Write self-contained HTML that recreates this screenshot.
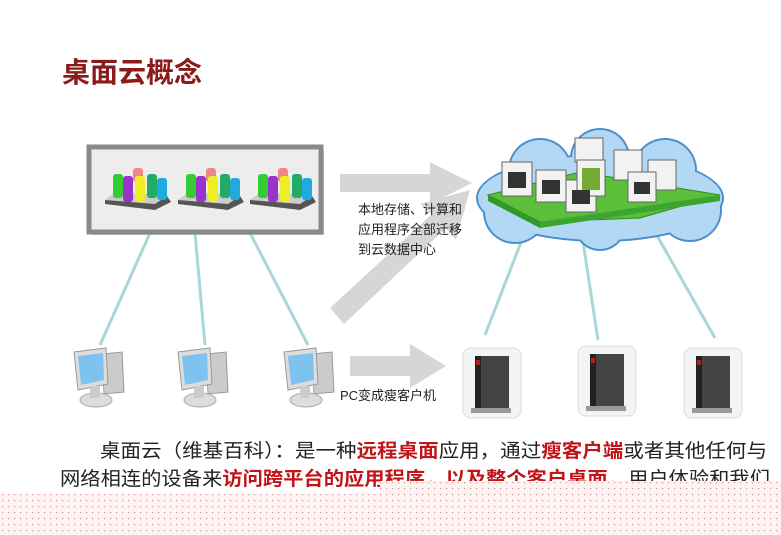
<!DOCTYPE html>
<html><head><meta charset="utf-8"><style>
html,body{margin:0;padding:0;background:#fff;}
body{width:781px;height:535px;overflow:hidden;position:relative;font-family:"Liberation Sans","Noto Sans CJK SC",sans-serif;}
</style></head><body>
<svg width="781" height="535" viewBox="0 0 781 535" xmlns="http://www.w3.org/2000/svg" style="position:absolute;left:0;top:0">
<defs>
<pattern id="dots" width="6" height="6" patternUnits="userSpaceOnUse"><rect width="6" height="6" fill="#fdf3f3"/><rect x="2" y="2" width="1.2" height="1.2" fill="#c99"/></pattern>
<g id="cyl">
 <polygon points="0,28 12,20 62,24 66,30 50,38 0,32" fill="#555"/>
 <polygon points="0,28 12,20 62,24 50,32" fill="#ccc"/>
 <rect x="8" y="2" width="10" height="24" rx="3" fill="#3c3"/>
 <rect x="28" y="-4" width="10" height="14" rx="3" fill="#e88"/>
 <rect x="18" y="4" width="10" height="26" rx="3" fill="#93c"/>
 <rect x="30" y="4" width="10" height="26" rx="3" fill="#ee2"/>
 <rect x="42" y="2" width="10" height="24" rx="3" fill="#2a6"/>
 <rect x="52" y="6" width="10" height="22" rx="3" fill="#2ad"/>
</g>
<g id="pc">
 <polygon points="28,6 48,4 50,44 30,46" fill="#ccc" stroke="#999"/>
 <polygon points="0,4 32,0 34,36 4,42" fill="#ddd" stroke="#999"/>
 <polygon points="4,8 29,5 30,32 7,37" fill="#7ec2f0"/>
 <ellipse cx="22" cy="52" rx="16" ry="7" fill="#ddd" stroke="#aaa"/>
 <rect x="16" y="38" width="10" height="12" fill="#ccc"/>
</g>
<g id="tc">
 <rect x="0" y="0" width="58" height="70" rx="8" fill="#f4f4f4" stroke="#ddd"/>
 <rect x="12" y="8" width="34" height="52" fill="#444"/>
 <rect x="12" y="8" width="6" height="52" fill="#222"/>
 <rect x="13" y="12" width="4" height="5" fill="#a22"/>
 <rect x="8" y="60" width="40" height="5" fill="#999"/>
</g>
</defs>
<text x="62" y="82" font-size="28" font-weight="bold" fill="#8b1a1a" font-family="Liberation Sans, Noto Sans CJK SC, sans-serif">桌面云概念</text>
<g stroke="#a9d6d8" stroke-width="3">
<line x1="150" y1="233" x2="100" y2="345"/><line x1="195" y1="233" x2="205" y2="345"/><line x1="250" y1="233" x2="308" y2="345"/>
<line x1="525" y1="232" x2="485" y2="335"/><line x1="582" y1="235" x2="598" y2="340"/><line x1="655" y1="232" x2="715" y2="338"/>
</g>
<rect x="92" y="150" width="232" height="85" fill="#999" opacity="0.5"/>
<rect x="89" y="147" width="232" height="85" fill="#ededed" stroke="#8a8a8a" stroke-width="5"/>
<use href="#cyl" x="105" y="172"/><use href="#cyl" x="178" y="172"/><use href="#cyl" x="250" y="172"/>
<polygon points="340,174 430,174 430,162 472,183 430,204 430,192 340,192" fill="#d6d6d6"/>
<polygon points="330,308 432,214 420,204 470,190 456,240 446,228 344,324" fill="#d6d6d6"/>
<polygon points="350,356 410,356 410,344 446,366 410,388 410,376 350,376" fill="#d6d6d6"/>
<g font-size="13" fill="#222">
<text x="358" y="214">本地存储、计算和</text><text x="358" y="234">应用程序全部迁移</text><text x="358" y="254">到云数据中心</text>
<text x="340" y="400">PC变成瘦客户机</text>
</g>
<!-- cloud -->
<g fill="#4a8fd0">
<ellipse cx="600" cy="198" rx="124" ry="44"/>
<circle cx="540" cy="170" r="32"/><circle cx="600" cy="158" r="30"/><circle cx="665" cy="170" r="32"/>
<circle cx="515" cy="212" r="32"/><circle cx="600" cy="225" r="26"/><circle cx="690" cy="210" r="32"/>
</g>
<g fill="#b3d8f4">
<ellipse cx="600" cy="198" rx="122" ry="42"/>
<circle cx="540" cy="170" r="30"/><circle cx="600" cy="158" r="28"/><circle cx="665" cy="170" r="30"/>
<circle cx="515" cy="212" r="30"/><circle cx="600" cy="225" r="24"/><circle cx="690" cy="210" r="30"/>
</g>
<polygon points="488,195 580,172 720,195 640,218 540,222" fill="#5cbf3a" stroke="#2f8a22"/>
<polygon points="488,195 540,222 540,228 488,201" fill="#2f9a2a"/>
<polygon points="540,222 720,195 720,201 540,228" fill="#3aa530"/>
<g stroke="#666" fill="#f2f2f2">
<rect x="502" y="162" width="30" height="34"/><rect x="536" y="170" width="30" height="32"/><rect x="566" y="180" width="30" height="32"/>
<rect x="575" y="138" width="28" height="24"/><rect x="577" y="160" width="28" height="36"/>
<rect x="614" y="150" width="28" height="30"/><rect x="648" y="160" width="28" height="30"/><rect x="628" y="172" width="28" height="30"/>
</g>
<g fill="#333"><rect x="508" y="172" width="18" height="16"/><rect x="542" y="180" width="18" height="14"/><rect x="572" y="190" width="18" height="14"/><rect x="582" y="168" width="18" height="22" fill="#7a3"/><rect x="634" y="182" width="16" height="12"/></g>
<use href="#pc" x="74" y="348"/><use href="#pc" x="178" y="348"/><use href="#pc" x="284" y="348"/>
<use href="#tc" x="463" y="348"/><use href="#tc" x="578" y="346"/><use href="#tc" x="684" y="348"/>
<g font-size="19" fill="#222">
<text x="100" y="457" textLength="667" lengthAdjust="spacingAndGlyphs">桌面云（维基百科）：是一种<tspan fill="#c0141a" font-weight="bold">远程桌面</tspan>应用，通过<tspan fill="#c0141a" font-weight="bold">瘦客户端</tspan>或者其他任何与</text>
<text x="60" y="485" textLength="710" lengthAdjust="spacingAndGlyphs">网络相连的设备来<tspan fill="#c0141a" font-weight="bold">访问跨平台的应用程序，以及整个客户桌面</tspan>，用户体验和我们</text>
</g>
<rect x="380" y="481" width="401" height="14" fill="url(#dots)"/>
<rect x="0" y="494" width="781" height="41" fill="url(#dots)"/>
</svg>
</body></html>
